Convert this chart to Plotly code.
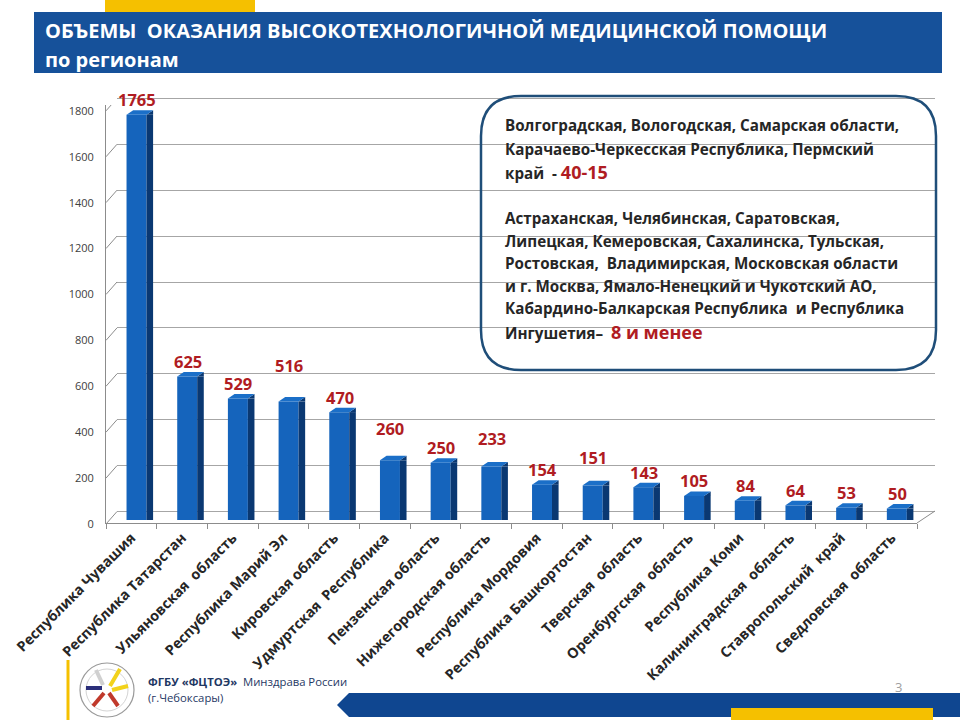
import plotly.graph_objects as go

# ---------------- data ----------------
regions = [
    "Республика Чувашия", "Республика Татарстан", "Ульяновская  область",
    "Республика Марий Эл", "Кировская область", "Удмуртская  Республика",
    "Пензенская область", "Нижегородская область", "Республика Мордовия",
    "Республика Башкортостан", "Тверская  область", "Оренбургская  область",
    "Республика Коми", "Калининградская  область", "Ставропольский  край",
    "Сведловская  область",
]
volumes = [1765, 625, 529, 516, 470, 260, 250, 233, 154, 151, 143, 105, 84, 64, 53, 50]
y_ticks = [0, 200, 400, 600, 800, 1000, 1200, 1400, 1600, 1800]

title_line1 = "ОБЪЕМЫ  ОКАЗАНИЯ ВЫСОКОТЕХНОЛОГИЧНОЙ МЕДИЦИНСКОЙ ПОМОЩИ"
title_line2 = "по регионам"
box_lines = [
    "Волгоградская, Вологодская, Самарская области,",
    "Карачаево-Черкесская Республика, Пермский",
    "край  - <span style='color:#b01c22;font-size:18px'>40-15</span>",
    "Астраханская, Челябинская, Саратовская,",
    "Липецкая, Кемеровская, Сахалинска, Тульская,",
    "Ростовская,  Владимирская, Московская области",
    "и г. Москва, Ямало-Ненецкий и Чукотский АО,",
    "Кабардино-Балкарская Республика  и Республика",
    "Ингушетия–  <span style='color:#b01c22;font-size:18px'>8 и менее</span>",
]

# ---------------- style ----------------
W, H = 960, 720
FRONT = "#1564bc"
SIDE = "#0a3872"
TOP = "#1b6fc8"
RED = "#b01c22"
NAVY = "#16519a"
YELLOW = "#f5c000"
GRID = "#a6a6a6"
AXIS = "#8c8c8c"
FONT = "Open Sans, Noto Sans, DejaVu Sans, sans-serif"

label_extra = [0, 0, 0, 21, 0, 17, 0, 13, 0, 13, 0, 0, 0, 0, 0, 0]
box_line_y = [125, 149, 172, 218, 241, 263, 286, 308, 332]


def px(x):
    return x / W


def py(y):
    return 1 - y / H


fig = go.Figure()

# empty trace to create the back-wall (grid) subplot
fig.add_trace(go.Scatter(x=[None], y=[None], xaxis="x", yaxis="y",
                         showlegend=False, hoverinfo="skip"))

# bars: front face and side face
fig.add_trace(go.Bar(x=regions, y=volumes, xaxis="x2", yaxis="y2",
                     width=0.394, offset=-0.095,
                     marker=dict(color=FRONT, line=dict(width=0)),
                     showlegend=False, hoverinfo="x+y"))
fig.add_trace(go.Bar(x=regions, y=volumes, xaxis="x2", yaxis="y2",
                     width=0.13, offset=0.299,
                     marker=dict(color=SIDE, line=dict(width=0)),
                     showlegend=False, hoverinfo="skip"))

shapes = []
annotations = []

# header
shapes.append(dict(type="rect", xref="paper", yref="paper", x0=px(105), x1=px(255),
                   y0=py(12), y1=py(0), fillcolor=YELLOW, line=dict(width=0), layer="above"))
shapes.append(dict(type="rect", xref="paper", yref="paper", x0=px(34), x1=px(942),
                   y0=py(73), y1=py(12), fillcolor=NAVY, line=dict(width=0), layer="above"))
annotations.append(dict(xref="paper", yref="paper", x=px(43), y=py(31), xanchor="left",
                        yanchor="middle", showarrow=False, text="<b>" + title_line1 + "</b>",
                        font=dict(family=FONT, size=20, color="white")))
annotations.append(dict(xref="paper", yref="paper", x=px(43), y=py(59), xanchor="left",
                        yanchor="middle", showarrow=False, text="<b>" + title_line2 + "</b>",
                        font=dict(family=FONT, size=20, color="white")))

# 3D top faces of the bars
for name, v in zip(regions, volumes):
    shapes.append(dict(type="path", xref="x2", yref="y2", xsizemode="pixel",
                       ysizemode="pixel", xanchor=name, yanchor=v,
                       path="M 15.2,0 L 21.8,4.5 L 21.8,0 Z",
                       fillcolor=SIDE, line=dict(width=0), layer="above"))
    shapes.append(dict(type="path", xref="x2", yref="y2", xsizemode="pixel",
                       ysizemode="pixel", xanchor=name, yanchor=v,
                       path="M -4.8,0 L 15.2,0 L 21.8,4.5 L 1.8,4.5 Z",
                       fillcolor=TOP, line=dict(width=0), layer="above"))

# left wall diagonal tick marks
for t in y_ticks:
    shapes.append(dict(type="line", xref="paper", yref="y2", xsizemode="pixel",
                       ysizemode="pixel", xanchor=px(106), yanchor=t,
                       x0=0, x1=11, y0=-4, y1=8.5,
                       line=dict(color=AXIS, width=1), layer="above"))

# floor right edge
shapes.append(dict(type="line", xref="paper", yref="paper", x0=px(917), y0=py(523),
                   x1=px(935), y1=py(511), line=dict(color=AXIS, width=1)))

# value labels
for name, v, ex in zip(regions, volumes, label_extra):
    annotations.append(dict(x=name, y=v, xref="x2", yref="y2", xshift=5.5,
                            yshift=15 + ex, yanchor="middle", showarrow=False,
                            text="<b>%d</b>" % v,
                            font=dict(family=FONT, size=16.5, color=RED)))


# rounded text box
def rr_path(x0, y0, x1, y1, r):
    def p(x, y):
        return "%.5f,%.5f" % (px(x), py(y))
    return ("M %s L %s Q %s %s L %s Q %s %s L %s Q %s %s L %s Q %s %s Z" % (
        p(x0 + r, y0), p(x1 - r, y0), p(x1, y0), p(x1, y0 + r),
        p(x1, y1 - r), p(x1, y1), p(x1 - r, y1),
        p(x0 + r, y1), p(x0, y1), p(x0, y1 - r),
        p(x0, y0 + r), p(x0, y0), p(x0 + r, y0)))


shapes.append(dict(type="path", xref="paper", yref="paper",
                   path=rr_path(481, 96, 936, 370, 40),
                   line=dict(color="#1f4e79", width=2.5), layer="above"))
for txt, yy in zip(box_lines, box_line_y):
    annotations.append(dict(xref="paper", yref="paper", x=px(503), y=py(yy),
                            xanchor="left", yanchor="middle", showarrow=False,
                            text="<b>" + txt + "</b>",
                            font=dict(family=FONT, size=15.2, color="#262626")))

# footer
shapes.append(dict(type="line", xref="paper", yref="paper", x0=px(68), x1=px(68),
                   y0=py(720), y1=py(660), line=dict(color=YELLOW, width=3)))
shapes.append(dict(type="circle", xref="paper", yref="paper", x0=px(80), x1=px(134),
                   y0=py(717), y1=py(663), line=dict(color="#9a9a9a", width=1.2)))
shapes.append(dict(type="circle", xref="paper", yref="paper", x0=px(86), x1=px(128),
                   y0=py(711), y1=py(669), line=dict(color="#c8c8c8", width=0.8)))
logo_sticks = [
    ((86, 688), (102, 688), "#2b2f7a"),
    ((104, 693), (93, 706), "#c0392b"),
    ((109, 693), (118, 706), "#c0392b"),
    ((110, 686), (120, 669), "#f2d21b"),
    ((112, 690), (128, 686), "#f2d21b"),
    ((103, 685), (96, 670), "#d0d0d0"),
]
for (a, b, c) in logo_sticks:
    shapes.append(dict(type="line", xref="paper", yref="paper", x0=px(a[0]), y0=py(a[1]),
                       x1=px(b[0]), y1=py(b[1]), line=dict(color=c, width=4)))
annotations.append(dict(xref="paper", yref="paper", x=px(146), y=py(681), xanchor="left",
                        yanchor="middle", showarrow=False,
                        text="<b>ФГБУ «ФЦТОЭ»</b>  Минздрава России",
                        font=dict(family=FONT, size=11.3, color="#1f3864")))
annotations.append(dict(xref="paper", yref="paper", x=px(146), y=py(697), xanchor="left",
                        yanchor="middle", showarrow=False, text="(г.Чебоксары)",
                        font=dict(family=FONT, size=11.3, color="#1f3864")))
shapes.append(dict(type="path", xref="paper", yref="paper",
                   path="M %.5f,%.5f L %.5f,%.5f L %.5f,%.5f L %.5f,%.5f L %.5f,%.5f Z" % (
                       px(337), py(705), px(349), py(693), px(960), py(693),
                       px(960), py(717), px(349), py(717)),
                   fillcolor="#0f4690", line=dict(width=0)))
shapes.append(dict(type="rect", xref="paper", yref="paper", x0=px(731), x1=px(933),
                   y0=py(720), y1=py(708), fillcolor=YELLOW, line=dict(width=0)))
annotations.append(dict(xref="paper", yref="paper", x=px(898), y=py(687),
                        xanchor="center", yanchor="middle", showarrow=False, text="3",
                        font=dict(family=FONT, size=13, color="#a0a0a0")))

fig.update_layout(
    width=W, height=H,
    margin=dict(l=0, r=0, t=0, b=0, autoexpand=False),
    paper_bgcolor="white",
    plot_bgcolor="rgba(0,0,0,0)",
    barmode="overlay",
    showlegend=False,
    font=dict(family=FONT),
    xaxis=dict(domain=[px(117), px(935)], anchor="y", range=[0, 1], visible=False,
               fixedrange=True, automargin=False),
    yaxis=dict(domain=[py(523), py(95)], anchor="x", range=[-52.4, 1817.4],
               tickvals=y_ticks, showgrid=True, gridcolor=GRID, gridwidth=1,
               showticklabels=False, zeroline=False, showline=False, ticks="",
               automargin=False),
    xaxis2=dict(domain=[px(106), px(917)], anchor="y2", type="category",
                range=[-0.5, len(regions) - 0.5], showline=True, linecolor=AXIS,
                ticks="outside", tickson="boundaries", ticklen=5, tickcolor=AXIS,
                tickangle=-45, showgrid=False, automargin=False,
                tickfont=dict(family=FONT, size=14.3, color="#262626", weight="bold")),
    yaxis2=dict(domain=[py(523), py(105)], anchor="x2", range=[-13, 1808],
                tickvals=y_ticks, showgrid=False, zeroline=False, showline=True,
                linecolor=AXIS, ticks="", ticklabelshift=4, ticklabelstandoff=9,
                automargin=False,
                tickfont=dict(family=FONT, size=11, color="#404040")),
    shapes=shapes,
    annotations=annotations,
)

fig.write_html("out.html")
